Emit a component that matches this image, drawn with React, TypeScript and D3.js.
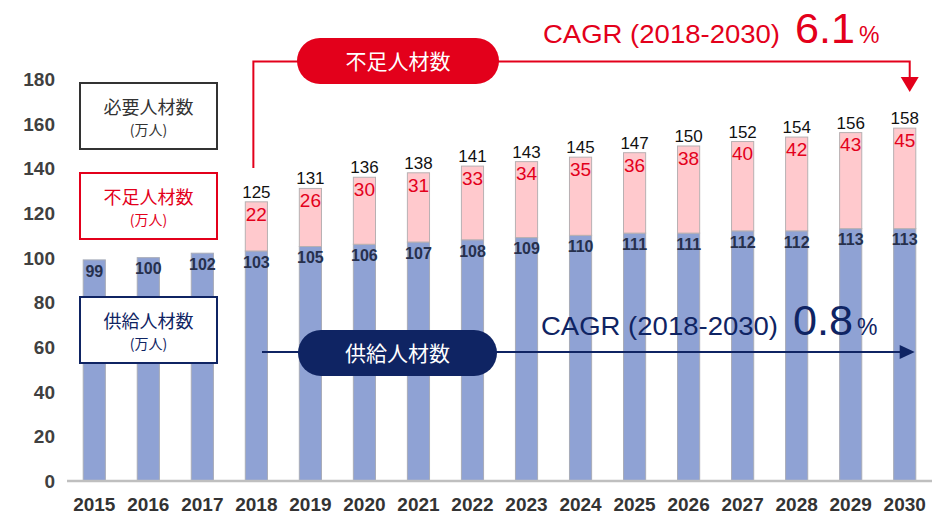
import React from "react";
import * as d3 from "d3";

const years = ["2015","2016","2017","2018","2019","2020","2021","2022","2023","2024","2025","2026","2027","2028","2029","2030"];
const supply = [99,100,102,103,105,106,107,108,109,110,111,111,112,112,113,113];
const shortage = [null,null,null,22,26,30,31,33,34,35,36,38,40,42,43,45];
const totals = [null,null,null,125,131,136,138,141,143,145,147,150,152,154,156,158];
const yTicks = [0,20,40,60,80,100,120,140,160,180];

const RED = "#e3001b";
const NAVY = "#0f2463";
const JP = "'Noto Sans CJK JP', sans-serif";
const NUM = "'Liberation Sans', Arial, sans-serif";

export default function App() {
  const W = 935, H = 515;
  const x = d3.scaleBand<string>().domain(years).range([67, 932]).paddingInner(0.59).paddingOuter(0.3);
  const y = d3.scaleLinear().domain([0, 180]).range([481, 79]);
  const bw = x.bandwidth();
  const cx = (i: number) => (x(years[i]) as number) + bw / 2;

  const legend = [
    { y0: 83, color: "#333333", text: "必要人材数" },
    { y0: 173, color: RED, text: "不足人材数" },
    { y0: 297, color: NAVY, text: "供給人材数" },
  ];

  const i2018 = years.indexOf("2018");
  const last = years.length - 1;
  const redX0 = cx(i2018) - 3;
  const redX1 = cx(last) + 5;
  const blueX1 = cx(last) + 10;

  const cagr = [
    { color: RED, base: 43, x0: 543, value: "6.1" },
    { color: NAVY, base: 335, x0: 541, value: "0.8" },
  ];

  return (
    <svg width={W} height={H} style={{ position: "absolute", left: 0, top: 0, background: "#fff" }}>
      {/* y ticks */}
      {yTicks.map((t) => (
        <text key={t} x={55} y={y(t)} dy="0.36em" textAnchor="end" fontFamily={NUM} fontWeight="bold" fontSize={19} fill="#404040">{t}</text>
      ))}
      {/* bars */}
      {years.map((yr, i) => (
        <g key={yr}>
          <rect x={x(yr)} y={y(supply[i])} width={bw} height={y(0) - y(supply[i])} fill="#8fa2d4" stroke="#a8acb8" strokeWidth={1} />
          {totals[i] != null && (
            <rect x={x(yr)} y={y(totals[i] as number)} width={bw} height={y(supply[i]) - y(totals[i] as number)} fill="#ffc9cd" stroke="#b8b0b2" strokeWidth={1} />
          )}
        </g>
      ))}
      {/* axis */}
      <line x1={67} x2={932} y1={481} y2={481} stroke="#bfbfbf" strokeWidth={2.5} />
      {years.map((yr, i) => (
        <text key={yr} x={cx(i)} y={504} dy="0.36em" textAnchor="middle" fontFamily={NUM} fontWeight="bold" fontSize={19} fill="#333">{yr}</text>
      ))}
      {/* labels */}
      {years.map((yr, i) => (
        <g key={"l" + yr}>
          <text x={cx(i)} y={y(supply[i]) + 11} dy="0.36em" textAnchor="middle" fontFamily={NUM} fontWeight="bold" fontSize={16} fill="#26304d">{supply[i]}</text>
          {shortage[i] != null && (
            <text x={cx(i)} y={y(totals[i] as number) + 12} dy="0.36em" textAnchor="middle" fontFamily={NUM} fontSize={19} fill={RED}>{shortage[i]}</text>
          )}
          {totals[i] != null && (
            <text x={cx(i)} y={y(totals[i] as number) - 4} textAnchor="middle" fontFamily={NUM} fontSize={17} fill="#111">{totals[i]}</text>
          )}
        </g>
      ))}
      {/* legend boxes */}
      {legend.map((l) => (
        <g key={l.text}>
          <rect x={80} y={l.y0} width={137} height={66} fill="#fff" stroke={l.color} strokeWidth={2} />
          <text x={148.5} y={l.y0 + 25} dy="0.36em" textAnchor="middle" fontFamily={JP} fontSize={18} fill={l.color}>{l.text}</text>
          <text x={148.5} y={l.y0 + 47} dy="0.36em" textAnchor="middle" fontFamily={JP} fontSize={14} fill={l.color}>(万人)</text>
        </g>
      ))}
      {/* red annotation */}
      <path d={`M${redX0},168 V61.5 H${redX1} V80`} fill="none" stroke={RED} strokeWidth={2} />
      <path d={`M${redX1 - 9},77 L${redX1 + 9},77 L${redX1},92 Z`} fill={RED} />
      <rect x={297} y={38} width={202} height={46} rx={23} fill={RED} />
      <text x={398} y={61} dy="0.36em" textAnchor="middle" fontFamily={JP} fontSize={21} fill="#fff">不足人材数</text>
      {/* navy annotation */}
      <line x1={262} x2={blueX1 - 12} y1={352} y2={352} stroke={NAVY} strokeWidth={2} />
      <path d={`M${blueX1 - 15},345 L${blueX1},352 L${blueX1 - 15},359 Z`} fill={NAVY} />
      <rect x={298} y={330} width={199} height={46} rx={23} fill={NAVY} />
      <text x={397.5} y={353} dy="0.36em" textAnchor="middle" fontFamily={JP} fontSize={21} fill="#fff">供給人材数</text>
      {/* CAGR texts */}
      {cagr.map((c) => (
        <g key={c.value} fontFamily={NUM} fill={c.color}>
          <text x={c.x0} y={c.base} fontSize={25} textLength={237} lengthAdjust="spacingAndGlyphs">CAGR (2018-2030)</text>
          <text x={c.x0 + 252} y={c.base} fontSize={43} textLength={60} lengthAdjust="spacingAndGlyphs">{c.value}</text>
          <text x={c.x0 + 316} y={c.base} fontSize={23}>%</text>
        </g>
      ))}
    </svg>
  );
}
